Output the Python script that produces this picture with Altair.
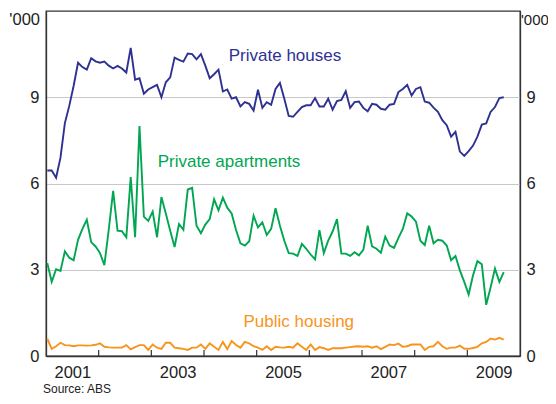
import altair as alt
import pandas as pd

# Monthly building approvals, '000, Jan 2001 - Sep 2009
start_year = 2001
houses = [6.45, 6.45, 6.2, 6.9, 8.1, 8.7, 9.4, 10.2, 10.05, 9.96, 10.36, 10.25,
          10.2, 10.24, 10.1, 10.0, 10.09, 10.0, 9.86, 10.72, 9.61, 9.66, 9.12, 9.27,
          9.35, 9.43, 9.0, 9.52, 9.69, 10.38, 10.3, 10.24, 10.52, 10.5, 10.32, 10.5,
          10.1, 9.66, 9.8, 9.96, 9.2, 9.27, 8.95, 9.0, 8.68, 8.83, 8.77, 8.54,
          9.26, 8.63, 8.83, 8.74, 9.29, 9.5, 8.95, 8.35, 8.32, 8.49, 8.66, 8.72,
          8.72, 8.97, 8.68, 8.68, 8.95, 8.57, 8.87, 8.91, 9.21, 8.63, 8.83, 8.85,
          8.63, 8.51, 8.77, 8.74, 8.6, 8.57, 8.74, 8.77, 9.18, 9.29, 9.43, 9.06,
          9.29, 9.35, 8.85, 8.81, 8.64, 8.49, 8.2, 8.03, 7.63, 7.8, 7.11, 6.96,
          7.13, 7.32, 7.63, 8.05, 8.09, 8.49, 8.66, 8.97, 9.0]
apartments = [3.23, 2.58, 3.02, 2.96, 3.64, 3.42, 3.33, 4.04, 4.42, 4.74, 3.96, 3.81,
              3.58, 3.16, 4.4, 5.74, 4.36, 4.34, 4.13, 6.22, 4.13, 8.0, 4.85, 4.7,
              5.02, 4.13, 5.53, 4.96, 4.36, 3.79, 4.59, 4.39, 5.79, 5.85, 4.53, 4.27,
              4.57, 4.76, 5.45, 5.07, 5.51, 5.16, 4.96, 4.38, 3.92, 3.84, 3.99, 4.88,
              4.47, 4.65, 4.21, 4.42, 5.14, 4.53, 4.01, 3.58, 3.56, 3.48, 3.9, 3.73,
              3.53, 3.36, 4.38, 3.58, 4.01, 4.33, 4.76, 3.56, 3.56, 3.48, 3.61, 3.5,
              3.69, 4.53, 3.81, 3.73, 3.59, 4.15, 3.84, 3.76, 4.11, 4.42, 4.96, 4.85,
              4.67, 4.01, 3.86, 4.53, 3.92, 4.04, 4.01, 3.84, 3.33, 3.48, 2.98, 2.58,
              2.14, 2.81, 3.30, 3.19, 1.78, 2.38, 3.04, 2.58, 2.92]
public = [0.6, 0.25, 0.34, 0.46, 0.38, 0.37, 0.34, 0.37, 0.37, 0.36, 0.37, 0.39,
          0.44, 0.32, 0.3, 0.29, 0.29, 0.29, 0.38, 0.23, 0.31, 0.38, 0.38, 0.21,
          0.4, 0.29, 0.25, 0.46, 0.46, 0.29, 0.27, 0.25, 0.21, 0.29, 0.29, 0.4,
          0.25, 0.44, 0.32, 0.21, 0.49, 0.24, 0.52, 0.38, 0.29, 0.49, 0.44, 0.34,
          0.29, 0.21, 0.34, 0.21, 0.32, 0.3, 0.29, 0.32, 0.29, 0.44, 0.32, 0.21,
          0.4, 0.21, 0.31, 0.27, 0.21, 0.27, 0.27, 0.27, 0.29, 0.31, 0.33, 0.34,
          0.32, 0.34, 0.29, 0.34, 0.24, 0.32, 0.4, 0.38, 0.43, 0.32, 0.34, 0.4,
          0.4, 0.4, 0.21, 0.32, 0.34, 0.49, 0.34, 0.25, 0.29, 0.29, 0.36, 0.25,
          0.25, 0.28, 0.32, 0.44, 0.49, 0.61, 0.57, 0.63, 0.57]

series_names = ["Private houses", "Private apartments", "Public housing"]
series_colors = ["#2e3192", "#00a651", "#f7941d"]
year_labels = [2001, 2003, 2005, 2007, 2009]
tick_years = [2002, 2003, 2004, 2005, 2006, 2007, 2008, 2009]
y_ticks = [0, 3, 6, 9]

# series label anchors (decimal year, value at baseline)
label_x = [2004.47, 2003.12, 2004.75]
label_y = [10.25, 6.57, 1.02]

FONT = "Liberation Sans"
W, H = 474, 345

rows = []
for name, vals in zip(series_names, [houses, apartments, public]):
    for i, v in enumerate(vals):
        rows.append({"series": name, "t": start_year + i / 12 + 0.025, "v": v})
df = pd.DataFrame(rows)

color_scale = alt.Scale(domain=series_names, range=series_colors)
x_scale = alt.Scale(domain=[2001, 2010], nice=False, zero=False)
y_scale = alt.Scale(domain=[0, 12], nice=False)

x_axis = alt.Axis(values=[y + 0.5 for y in year_labels], labelExpr="floor(datum.value)",
                  title=None, ticks=False, tickSize=0, grid=False, labelPadding=8,
                  labelFontSize=16.5, labelFont=FONT, labelColor="#222",
                  domainColor="#333", domainWidth=1.3)
y_left = alt.Axis(values=y_ticks, orient="left", title=None, ticks=False, tickSize=0,
                  labelPadding=7, grid=True, gridColor="#c8c8c8", gridWidth=1,
                  labelFontSize=16.5, labelFont=FONT, labelColor="#222",
                  domainColor="#333", domainWidth=1.3)
y_right = alt.Axis(values=y_ticks, orient="right", title=None, ticks=False, tickSize=0,
                   labelPadding=6, grid=False,
                   labelFontSize=16.5, labelFont=FONT, labelColor="#222",
                   domainColor="#333", domainWidth=1.3)

X_main = lambda f: alt.X(f, scale=x_scale, axis=x_axis)

lines = alt.Chart(df).mark_line(strokeWidth=1.9).encode(
    x=X_main("t:Q"),
    y=alt.Y("v:Q", scale=y_scale, axis=y_left),
    color=alt.Color("series:N", scale=color_scale, legend=None),
    detail="series:N",
)

right_axis = alt.Chart(df).mark_line(opacity=0).encode(
    x=X_main("t:Q"),
    y=alt.Y("v:Q", scale=y_scale, axis=y_right),
    detail="series:N",
)

ticks = alt.Chart(pd.DataFrame({"yr": tick_years})).mark_rule(
    color="#333", strokeWidth=1.2).encode(
    x=X_main("yr:Q"),
    y=alt.value(H), y2=alt.value(H - 6),
)

labels_df = pd.DataFrame({"series": series_names, "lx": label_x, "ly": label_y})
series_labels = alt.Chart(labels_df).mark_text(
    align="left", baseline="alphabetic", font=FONT, fontSize=17).encode(
    x=X_main("lx:Q"),
    y=alt.Y("ly:Q", scale=y_scale, axis=None),
    text="series:N",
    color=alt.Color("series:N", scale=color_scale, legend=None),
)

units_df = pd.DataFrame({"txt": ["'000", "'000"], "side": ["left", "right"]})
unit_left = alt.Chart(units_df[units_df.side == "left"]).mark_text(
    align="right", baseline="top", font=FONT, fontSize=16.5, color="#222").encode(
    x=alt.value(-6), y=alt.value(1), text="txt:N")
unit_right = alt.Chart(units_df[units_df.side == "right"]).mark_text(
    align="left", baseline="top", font=FONT, fontSize=15, color="#222").encode(
    x=alt.value(W + 1), y=alt.value(1.5), text="txt:N")

source_df = pd.DataFrame({"txt": ["Source: ABS"]})
source = alt.Chart(source_df).mark_text(
    align="left", baseline="alphabetic", font=FONT, fontSize=12, color="#222").encode(
    x=alt.value(-3), y=alt.value(H + 37), text="txt:N")

chart = alt.layer(
    lines, right_axis, ticks, series_labels, unit_left, unit_right, source
).resolve_scale(y="shared").resolve_axis(y="independent").properties(
    width=W, height=H,
    autosize=alt.AutoSizeParams(type="none"),
    padding={"left": 38, "top": 3, "right": 28, "bottom": 40},
).configure_view(stroke="#333", strokeWidth=1.3)

chart.save("out.html", embed_options={"renderer": "svg", "actions": False})
